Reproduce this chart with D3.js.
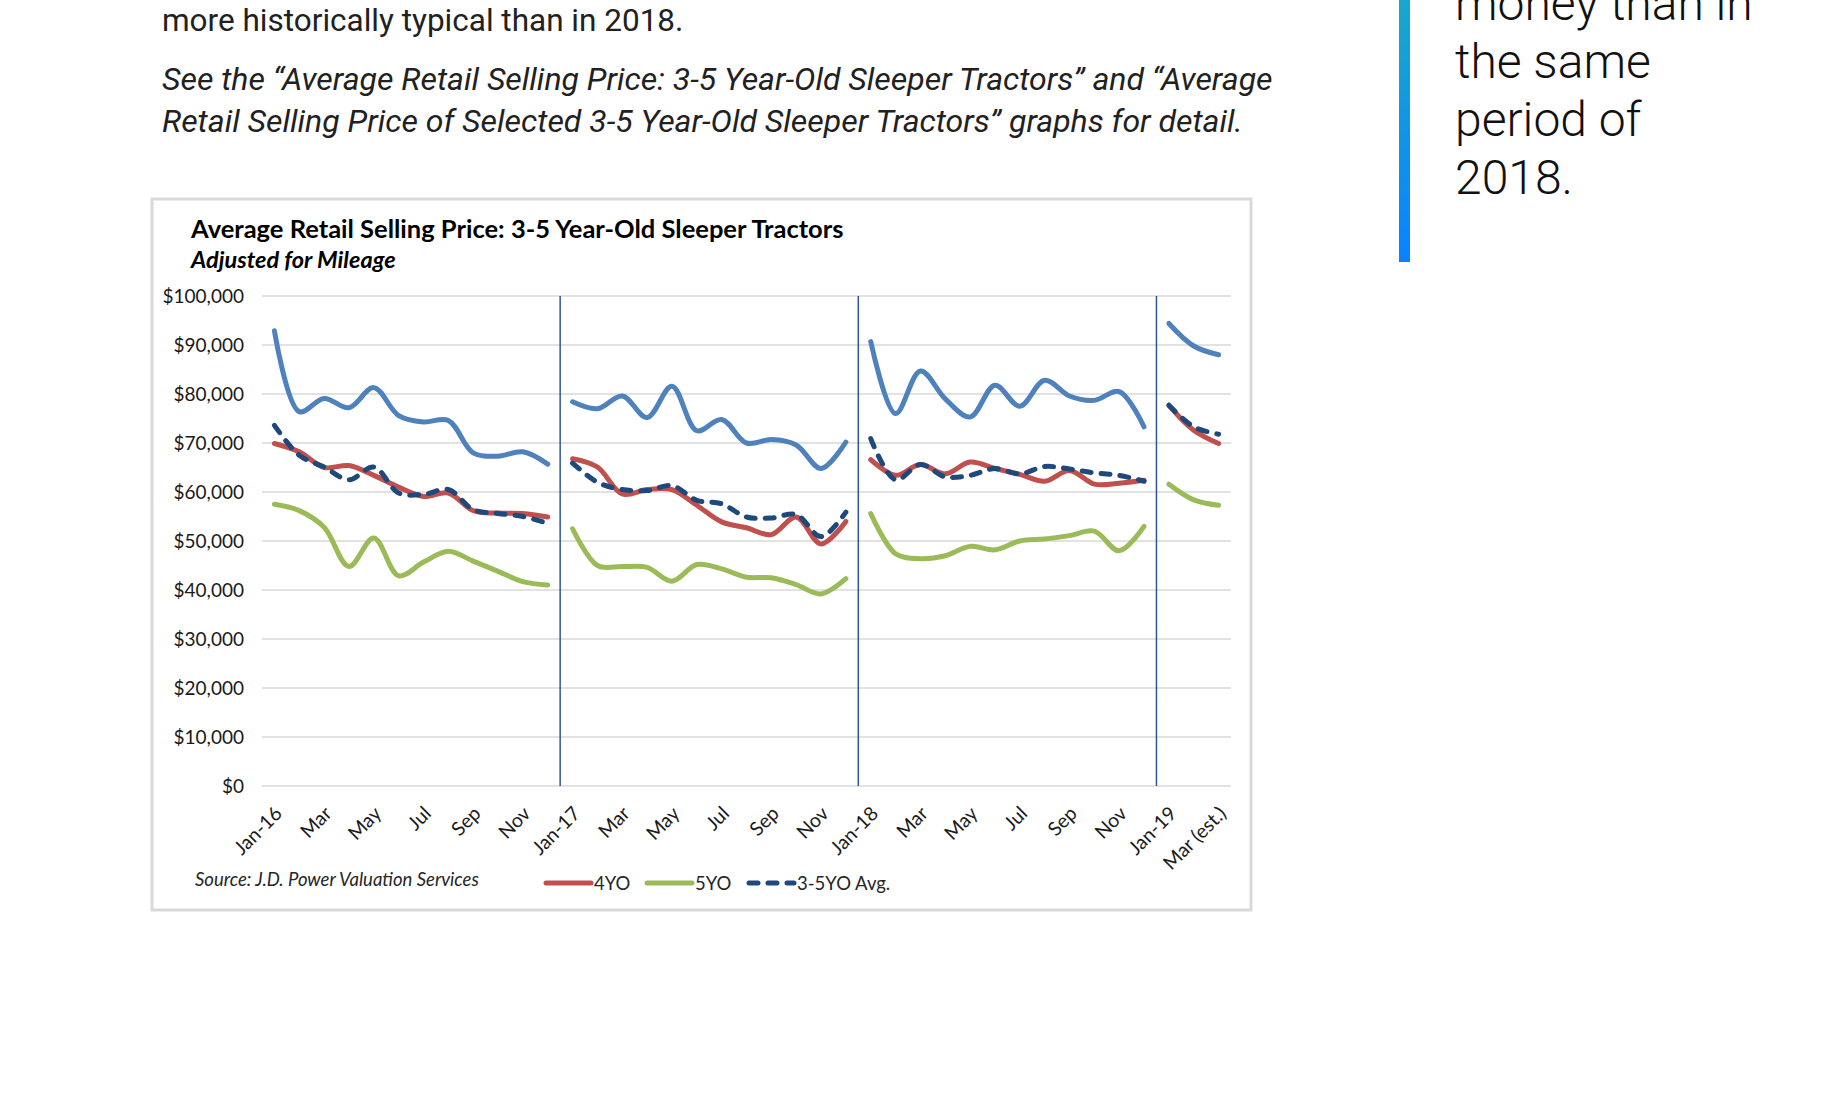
<!DOCTYPE html>
<html>
<head>
<meta charset="utf-8">
<script src="https://cdn.jsdelivr.net/npm/d3@7"></script>
<style>
  body { margin: 0; background: #fff; }
  svg { display: block; }
</style>
</head>
<body>
<div id="page"></div>
<script>
// months on the category axis
var categories = ["Jan-16","Feb-16","Mar-16","Apr-16","May-16","Jun-16","Jul-16","Aug-16","Sep-16","Oct-16","Nov-16","Dec-16",
                  "Jan-17","Feb-17","Mar-17","Apr-17","May-17","Jun-17","Jul-17","Aug-17","Sep-17","Oct-17","Nov-17","Dec-17",
                  "Jan-18","Feb-18","Mar-18","Apr-18","May-18","Jun-18","Jul-18","Aug-18","Sep-18","Oct-18","Nov-18","Dec-18",
                  "Jan-19","Feb-19","Mar-19"];

// every other month gets a label
var tickLabels = ["Jan-16","Mar","May","Jul","Sep","Nov",
                  "Jan-17","Mar","May","Jul","Sep","Nov",
                  "Jan-18","Mar","May","Jul","Sep","Nov",
                  "Jan-19","Mar (est.)"];

var yearStarts = ["Jan-17","Jan-18","Jan-19"];

var yTicks = [0,10000,20000,30000,40000,50000,60000,70000,80000,90000,100000];

// 3 year old (blue, no legend entry)
var threeYO = [92900,76400,79100,77200,81300,75600,74300,74600,68000,67300,68200,65700,
               78400,77000,79600,75200,81600,72500,74800,70000,70700,69600,64800,70200,
               90700,76000,84700,79000,75300,81800,77500,82800,79600,78700,80500,73300,
               94400,89800,88000];

var fourYO = [69900,68200,65000,65400,63400,61000,59100,59800,56200,55700,55600,54900,
              66800,65100,59600,60500,60500,57300,53900,52700,51300,54900,49400,54000,
              66600,63400,65600,63700,66100,64800,63600,62200,64400,61600,61800,62400,
              77700,72600,69900];

var fiveYO = [57500,56200,52800,44800,50600,42900,45700,47900,45900,43800,41700,41000,
              52500,45000,44800,44600,41800,45200,44300,42600,42500,41100,39200,42300,
              55600,47400,46400,47000,48900,48200,50000,50400,51100,52000,48000,53000,
              61600,58400,57300];

var avgYO = [73600,67500,65100,62500,65100,59800,59500,60500,56400,55600,55000,53600,
             65900,62000,60500,60300,61300,58300,57600,54900,54700,55400,50900,55900,
             70900,62500,65600,63100,63400,64800,63700,65200,64700,63900,63400,62200,
             77700,73300,71800];

var series = [
  { name: "3YO", values: threeYO, color: "#4f81bd", dash: null, legend: false },
  { name: "4YO", values: fourYO, color: "#c0504d", dash: null, legend: true },
  { name: "5YO", values: fiveYO, color: "#9bbb59", dash: null, legend: true },
  { name: "3-5YO Avg.", values: avgYO, color: "#1f497d", dash: "9,10", legend: true }
];

var svgWidth = 1836;
var svgHeight = 1111;

var svg = d3.select("#page")
  .append("svg")
  .attr("width", svgWidth)
  .attr("height", svgHeight);

svg.append("rect")
  .attr("width", svgWidth)
  .attr("height", svgHeight)
  .attr("fill", "#fff");

// --- article text around the chart ---
svg.append("text")
  .attr("x", 162)
  .attr("y", 31)
  .style("font-family", "Roboto")
  .style("font-size", "31.5px")
  .attr("fill", "#212121")
  .text("more historically typical than in 2018.");

var italicLines = [
  "See the \u201cAverage Retail Selling Price: 3-5 Year-Old Sleeper Tractors\u201d and \u201cAverage",
  "Retail Selling Price of Selected 3-5 Year-Old Sleeper Tractors\u201d graphs for detail."
];

svg.selectAll(".note")
  .data(italicLines)
  .enter()
  .append("text")
  .attr("class", "note")
  .attr("x", 162)
  .attr("y", function(d, i) { return 90 + i * 42; })
  .style("font-family", "Roboto")
  .style("font-style", "italic")
  .style("font-size", "32px")
  .attr("fill", "#212121")
  .text(function(d) { return d; });

// side quote with gradient bar
var grad = svg.append("defs")
  .append("linearGradient")
  .attr("id", "barGrad")
  .attr("x1", 0).attr("y1", 0).attr("x2", 0).attr("y2", 1);
grad.append("stop").attr("offset", "0%").attr("stop-color", "#18a8cc");
grad.append("stop").attr("offset", "100%").attr("stop-color", "#0a82ff");

svg.append("rect")
  .attr("x", 1399)
  .attr("y", 0)
  .attr("width", 11)
  .attr("height", 262)
  .attr("fill", "url(#barGrad)");

var quoteLines = ["money than in", "the same", "period of", "2018."];

svg.selectAll(".quote")
  .data(quoteLines)
  .enter()
  .append("text")
  .attr("class", "quote")
  .attr("x", 1455)
  .attr("y", function(d, i) { return 20 + i * 58; })
  .style("font-family", "Roboto")
  .style("font-weight", 300)
  .style("font-size", "48px")
  .attr("fill", "#111")
  .text(function(d) { return d; });

// --- chart frame ---
svg.append("rect")
  .attr("x", 152)
  .attr("y", 199)
  .attr("width", 1099)
  .attr("height", 711)
  .attr("fill", "#fff")
  .attr("stroke", "#d9d9d9")
  .attr("stroke-width", 3);

svg.append("text")
  .attr("x", 191)
  .attr("y", 238)
  .style("font-family", "Lato")
  .style("font-weight", 700)
  .style("font-size", "25.5px")
  .attr("fill", "#000")
  .text("Average Retail Selling Price: 3-5 Year-Old Sleeper Tractors");

svg.append("text")
  .attr("x", 191)
  .attr("y", 268)
  .style("font-family", "Lato")
  .style("font-weight", 700)
  .style("font-style", "italic")
  .style("font-size", "23.5px")
  .attr("fill", "#000")
  .text("Adjusted for Mileage");

// plot area
var plot = { left: 262, right: 1231, top: 296, bottom: 786 };

var x = d3.scaleBand()
  .domain(categories)
  .range([plot.left, plot.right])
  .padding(0);

var y = d3.scaleLinear()
  .domain([0, 100000])
  .range([plot.bottom, plot.top]);

// gridlines
svg.append("g")
  .selectAll("line")
  .data(yTicks)
  .enter()
  .append("line")
  .attr("x1", plot.left)
  .attr("x2", plot.right)
  .attr("y1", function(d) { return y(d); })
  .attr("y2", function(d) { return y(d); })
  .attr("stroke", "#d9d9d9")
  .attr("stroke-width", 1.5);

// y axis labels
var yAxis = d3.axisLeft(y)
  .tickValues(yTicks)
  .tickSize(0)
  .tickPadding(0)
  .tickFormat(function(d) { return "$" + d3.format(",")(d); });

var yG = svg.append("g")
  .attr("transform", "translate(" + (plot.left - 18) + ",0)")
  .call(yAxis);
yG.select(".domain").remove();
yG.selectAll("text")
  .style("font-family", "Lato")
  .style("font-size", "19px")
  .attr("fill", "#1a1a1a");

// x axis labels, rotated
var tickCats = categories.filter(function(d, i) { return i % 2 === 0; });

var xAxis = d3.axisBottom(x)
  .tickValues(tickCats)
  .tickSize(0)
  .tickFormat(function(d, i) { return tickLabels[i]; });

var xG = svg.append("g")
  .attr("transform", "translate(0," + plot.bottom + ")")
  .call(xAxis);
xG.select(".domain").remove();
xG.selectAll("text")
  .style("font-family", "Lato")
  .style("font-size", "19.5px")
  .attr("fill", "#1a1a1a")
  .attr("text-anchor", "end")
  .attr("x", 0)
  .attr("y", 0)
  .attr("dy", "0.35em")
  .attr("transform", "translate(4,24) rotate(-45)");

// year separators
svg.append("g")
  .selectAll("line")
  .data(yearStarts)
  .enter()
  .append("line")
  .attr("x1", function(d) { return x(d); })
  .attr("x2", function(d) { return x(d); })
  .attr("y1", plot.top)
  .attr("y2", plot.bottom)
  .attr("stroke", "#2f5597")
  .attr("stroke-width", 1.5);

// lines, broken at each new year
var line = d3.line()
  .x(function(d) { return x(d.cat) + x.bandwidth() / 2; })
  .y(function(d) { return y(d.v); })
  .curve(d3.curveCatmullRom.alpha(0.5));

series.forEach(function(s) {
  var pts = categories.map(function(c, i) { return { cat: c, v: s.values[i] }; });
  var byYear = d3.groups(pts, function(d) { return d.cat.slice(-2); });
  svg.append("g")
    .selectAll("path")
    .data(byYear)
    .enter()
    .append("path")
    .attr("d", function(g) { return line(g[1]); })
    .attr("fill", "none")
    .attr("stroke", s.color)
    .attr("stroke-width", 5)
    .attr("stroke-linecap", "round")
    .attr("stroke-linejoin", "round")
    .attr("stroke-dasharray", s.dash);
});

// source note
svg.append("text")
  .attr("x", 195)
  .attr("y", 886)
  .style("font-family", "Lato")
  .style("font-style", "italic")
  .style("font-size", "18.5px")
  .attr("fill", "#262626")
  .text("Source: J.D. Power Valuation Services");

// legend
var legendX = [546, 647, 749];
var legendItems = series.filter(function(s) { return s.legend; });

var legend = svg.append("g")
  .selectAll("g")
  .data(legendItems)
  .enter()
  .append("g")
  .attr("transform", function(d, i) { return "translate(" + legendX[i] + ",883)"; });

legend.append("line")
  .attr("x1", 0)
  .attr("x2", 45)
  .attr("stroke", function(d) { return d.color; })
  .attr("stroke-width", 5)
  .attr("stroke-linecap", "round")
  .attr("stroke-dasharray", function(d) { return d.dash; });

legend.append("text")
  .attr("x", 48)
  .attr("y", 6.5)
  .style("font-family", "Lato")
  .style("font-size", "18.5px")
  .attr("fill", "#262626")
  .text(function(d) { return d.name; });
</script>
</body>
</html>
